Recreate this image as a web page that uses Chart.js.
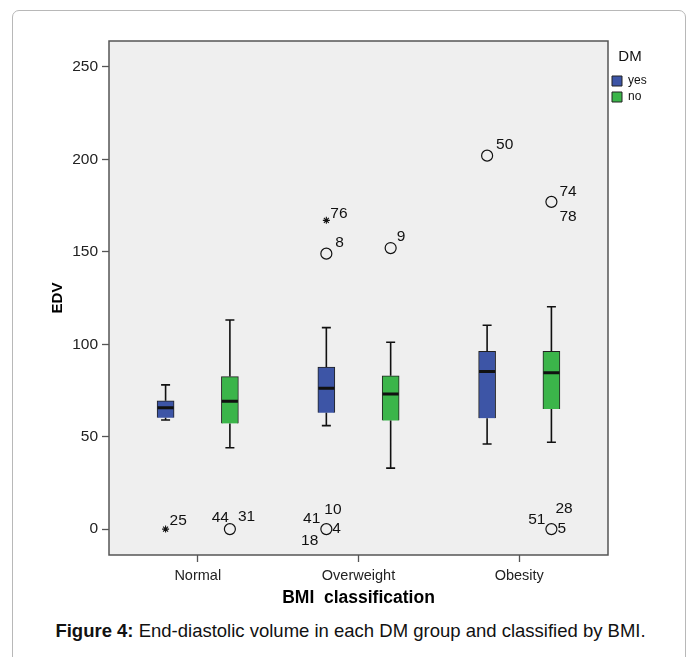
<!DOCTYPE html>
<html>
<head>
<meta charset="utf-8">
<title>EDV by BMI and DM</title>
<script src="https://cdn.jsdelivr.net/npm/chart.js@4.4.0/dist/chart.umd.min.js"></script>
<style>
  html, body { margin: 0; padding: 0; background: #fff; }
  body { width: 691px; height: 657px; position: relative; overflow: hidden; font-family: "Liberation Sans", Arial, sans-serif; }
  .frame { position: absolute; left: 12px; top: 10px; width: 672px; height: 670px; border: 1px solid #b8b8b8; border-radius: 7px; }
  .chart-wrap { position: absolute; left: 0; top: 0; width: 691px; height: 612px; }
  .caption { position: absolute; left: 10px; top: 620px; width: 681px; text-align: center; font-size: 18.5px; color: #111; }
</style>
</head>
<body>
<div class="frame"></div>
<div class="chart-wrap"><canvas id="edv-chart" width="691" height="612"></canvas></div>
<div class="caption"><b>Figure 4:</b> End-diastolic volume in each DM group and classified by BMI.</div>
<script>
// categories and groups
const categories = ['Normal', 'Overweight', 'Obesity'];
const dmGroups = ['yes', 'no'];
const yTicks = [0, 50, 100, 150, 200, 250];

// box summaries (one value per BMI class)
const yesWhiskerLow = [59, 56, 46];
const yesQ1 = [60.3, 63, 60];
const yesMedian = [65.7, 76.2, 85.2];
const yesQ3 = [69.4, 87.7, 96.2];
const yesWhiskerHigh = [78, 109, 110.3];

const noWhiskerLow = [44, 33, 47];
const noQ1 = [57.1, 58.7, 65];
const noMedian = [69.2, 73.1, 84.6];
const noQ3 = [82.5, 82.9, 96.2];
const noWhiskerHigh = [113.1, 101.1, 120.3];

// outliers (circles) and extremes (stars) with their case numbers
const outlierClass = ['Normal', 'Overweight', 'Overweight', 'Overweight', 'Obesity', 'Obesity', 'Obesity'];
const outlierDM = ['no', 'yes', 'yes', 'no', 'yes', 'no', 'no'];
const outlierValue = [0, 0, 149, 152, 202, 177, 0];
const outlierCases = [['44', '31'], ['41', '10', '18', '4'], ['8'], ['9'], ['50'], ['74', '78'], ['51', '28', '5']];

const extremeClass = ['Normal', 'Overweight'];
const extremeDM = ['yes', 'yes'];
const extremeValue = [0, 167];
const extremeCases = [['25'], ['76']];

// --- styling / layout (not data) ---
const groupOffset = { yes: -0.2, no: 0.2 };
const capHalf = 0.028;
const blue = '#3d55a6';
const green = '#3bb54a';
const fontFamily = '"Liberation Sans", Arial, sans-serif';
// where each case number sits relative to its marker: [dx, dy, textAlign]
const caseLabelPos = {
  '44': [-1, -11, 'right'], '31': [8, -12, 'left'],
  '41': [-6, -10, 'right'], '10': [-2, -19, 'left'], '18': [-8, 12, 'right'], '4': [6, 0, 'left'],
  '8': [9, -11, 'left'], '9': [6, -11, 'left'], '50': [9, -11, 'left'],
  '74': [8, -10, 'left'], '78': [8, 15, 'left'],
  '51': [-6, -9, 'right'], '28': [4, -20, 'left'], '5': [6, 0, 'left'],
  '25': [4, -8, 'left'], '76': [4, -7, 'left']
};

const xPos = (cls, dm) => categories.indexOf(cls) + 1 + groupOffset[dm];

function boxData(q1, q3, dm) {
  return categories.map((c, i) => ({ x: xPos(c, dm), y: [q1[i], q3[i]] }));
}

function whiskerData(lo, q1, q3, hi, dm) {
  const pts = [];
  categories.forEach((c, i) => {
    const x = xPos(c, dm);
    pts.push({ x, y: lo[i] }, { x, y: q1[i] }, { x, y: null });
    pts.push({ x, y: q3[i] }, { x, y: hi[i] }, { x, y: null });
    pts.push({ x: x - capHalf, y: lo[i] }, { x: x + capHalf, y: lo[i] }, { x, y: null });
    pts.push({ x: x - capHalf, y: hi[i] }, { x: x + capHalf, y: hi[i] }, { x, y: null });
  });
  return pts;
}

function medianData(med, dm) {
  const pts = [];
  categories.forEach((c, i) => {
    const x = xPos(c, dm);
    pts.push({ x: x - 0.05, y: med[i] }, { x: x + 0.05, y: med[i] }, { x, y: null });
  });
  return pts;
}

const outlierPoints = outlierValue.map((v, i) => ({ x: xPos(outlierClass[i], outlierDM[i]), y: v, cases: outlierCases[i] }));
const extremePoints = extremeValue.map((v, i) => ({ x: xPos(extremeClass[i], extremeDM[i]), y: v, cases: extremeCases[i] }));

const lineDefaults = { type: 'line', borderColor: '#111', pointRadius: 0, spanGaps: false, fill: false, tension: 0 };

const plotFrame = {
  id: 'plotFrame',
  beforeDraw(chart) {
    const { ctx, chartArea: a } = chart;
    ctx.save();
    ctx.fillStyle = '#efefef';
    ctx.fillRect(a.left, a.top, a.right - a.left, a.bottom - a.top);
    ctx.restore();
  },
  afterDraw(chart) {
    const { ctx, chartArea: a } = chart;
    ctx.save();
    ctx.strokeStyle = '#555';
    ctx.lineWidth = 1.5;
    ctx.strokeRect(a.left, a.top, a.right - a.left, a.bottom - a.top);
    ctx.restore();
  }
};

const caseLabels = {
  id: 'caseLabels',
  afterDatasetsDraw(chart) {
    const { ctx, scales: { x, y } } = chart;
    ctx.save();
    ctx.fillStyle = '#111';
    ctx.font = '15.5px ' + fontFamily;
    ctx.textBaseline = 'middle';
    outlierPoints.concat(extremePoints).forEach(p => {
      const px = x.getPixelForValue(p.x);
      const py = y.getPixelForValue(p.y);
      p.cases.forEach(id => {
        const [dx, dy, align] = caseLabelPos[id];
        ctx.textAlign = align;
        ctx.fillText(id, px + dx, py + dy);
      });
    });
    ctx.restore();
  }
};

new Chart(document.getElementById('edv-chart'), {
  type: 'bar',
  data: {
    datasets: [
      { label: 'yes', data: boxData(yesQ1, yesQ3, 'yes'), backgroundColor: blue, borderColor: '#222', borderWidth: 1, barThickness: 17, grouped: false, order: 3 },
      { label: 'no', data: boxData(noQ1, noQ3, 'no'), backgroundColor: green, borderColor: '#222', borderWidth: 1, barThickness: 17, grouped: false, order: 3 },
      { ...lineDefaults, label: 'whiskers-yes', data: whiskerData(yesWhiskerLow, yesQ1, yesQ3, yesWhiskerHigh, 'yes'), borderWidth: 1.6, order: 2 },
      { ...lineDefaults, label: 'whiskers-no', data: whiskerData(noWhiskerLow, noQ1, noQ3, noWhiskerHigh, 'no'), borderWidth: 1.6, order: 2 },
      { ...lineDefaults, label: 'median-yes', data: medianData(yesMedian, 'yes'), borderWidth: 3, order: 1 },
      { ...lineDefaults, label: 'median-no', data: medianData(noMedian, 'no'), borderWidth: 3, order: 1 },
      { type: 'scatter', label: 'outliers', data: outlierPoints, pointStyle: 'circle', pointRadius: 5.5, borderColor: '#111', borderWidth: 1.2, backgroundColor: 'rgba(0,0,0,0)', order: 0 },
      { type: 'scatter', label: 'extremes', data: extremePoints, pointStyle: 'star', pointRadius: 3.5, borderColor: '#111', borderWidth: 1.1, order: 0 }
    ]
  },
  options: {
    responsive: false,
    animation: false,
    events: [],
    layout: { padding: { top: 41, right: 39, bottom: 0, left: 0 } },
    scales: {
      x: {
        type: 'linear',
        min: 0.448,
        max: 3.552,
        offset: false,
        afterBuildTicks: scale => { scale.ticks = categories.map((c, i) => ({ value: i + 1 })); },
        afterFit: scale => { scale.height = 57; },
        ticks: { callback: v => categories[v - 1] || '', color: '#222', font: { family: fontFamily, size: 14.5 }, padding: 5, maxRotation: 0 },
        grid: { display: true, drawOnChartArea: false, offset: false, tickLength: 7, color: '#555', tickWidth: 1.3 },
        border: { display: false },
        title: { display: true, text: 'BMI  classification', color: '#000', font: { family: fontFamily, size: 17.5, weight: 'bold' }, padding: { top: 0, bottom: 3 } }
      },
      y: {
        min: -14,
        max: 264,
        afterBuildTicks: scale => { scale.ticks = yTicks.map(v => ({ value: v })); },
        afterFit: scale => { scale.width = 109; },
        ticks: { color: '#222', font: { family: fontFamily, size: 15.5 }, padding: 4 },
        grid: { display: true, drawOnChartArea: false, tickLength: 7, color: '#555', tickWidth: 1.3 },
        border: { display: false },
        title: { display: true, text: 'EDV', color: '#000', font: { family: fontFamily, size: 15, weight: 'bold' }, padding: { top: 49, bottom: 0 } }
      }
    },
    plugins: {
      tooltip: { enabled: false },
      legend: {
        position: 'right',
        align: 'start',
        maxWidth: 44,
        title: { display: true, text: 'DM', color: '#111', position: 'center', font: { family: fontFamily, size: 15 }, padding: { top: 8, bottom: 4 } },
        labels: {
          filter: item => dmGroups.includes(item.text),
          boxWidth: 10,
          boxHeight: 10,
          padding: 4,
          color: '#111',
          font: { family: fontFamily, size: 12 }
        }
      }
    }
  },
  plugins: [plotFrame, caseLabels]
});
</script>
</body>
</html>
